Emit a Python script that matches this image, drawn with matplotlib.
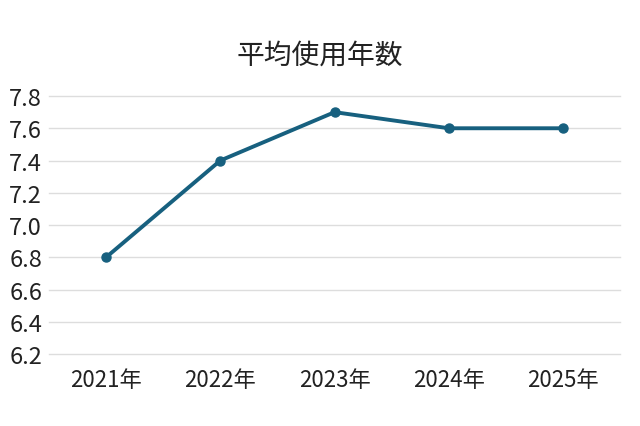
import matplotlib
matplotlib.use("Agg")
import matplotlib.pyplot as plt

years = ["2021年", "2022年", "2023年", "2024年", "2025年"]
values = [6.8, 7.4, 7.7, 7.6, 7.6]
yticks = [6.2, 6.4, 6.6, 6.8, 7.0, 7.2, 7.4, 7.6, 7.8]
title = "平均使用年数"

plt.rcParams['font.family'] = ['Noto Sans CJK JP', 'DejaVu Sans']

fig = plt.figure(figsize=(6.4, 4.27), dpi=100)
ax = fig.add_axes([0.0766, 0.1686, 0.969 - 0.0766, 0.7728 - 0.1686])

x = list(range(len(years)))
ax.plot(x, values, color="#17607f", linewidth=2.8, marker="o", markersize=6.5, clip_on=False, zorder=3)

ax.set_xlim(-0.5, len(years) - 0.5)
ax.set_ylim(6.2, 7.8)
ax.set_yticks(yticks)
ax.set_yticklabels([f"{v:.1f}" for v in yticks])
ax.set_xticks(x)
ax.set_xticklabels(years)

ax.grid(axis="y", color="#dddddd", linewidth=1)
for gl in ax.get_ygridlines():
    gl.set_clip_on(False)
ax.set_axisbelow(True)
for s in ax.spines.values():
    s.set_visible(False)
ax.tick_params(axis="y", length=0, labelsize=17, colors="#222222", pad=5)
ax.tick_params(axis="x", length=0, labelsize=16, colors="#222222", pad=10)

fig.text(0.5, 0.869, title, ha="center", va="center", fontsize=20, color="#222222")

fig.savefig("out.png", dpi=100)
